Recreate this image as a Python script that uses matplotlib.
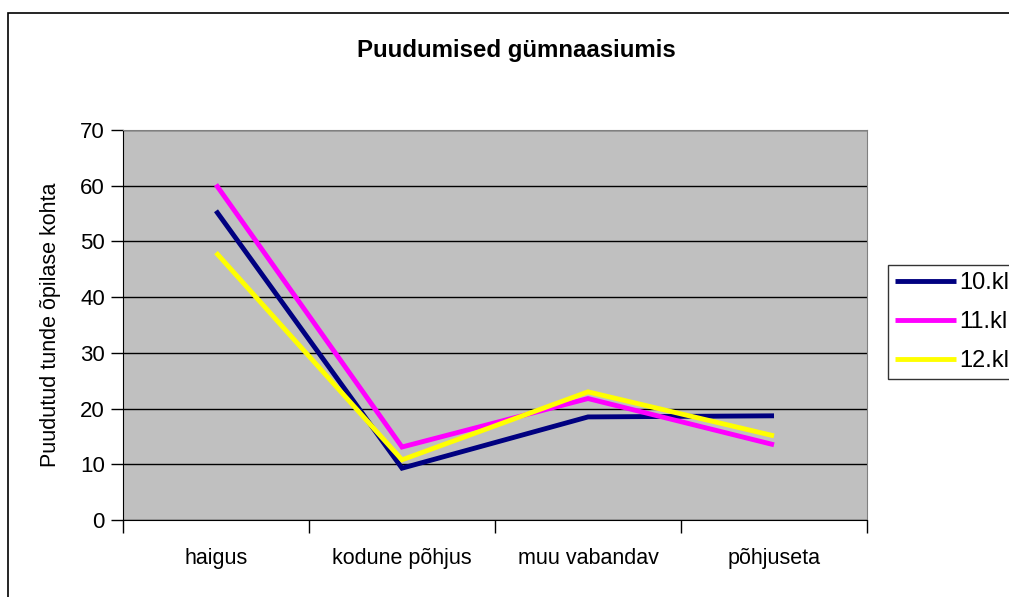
import matplotlib.pyplot as plt
from matplotlib.patches import Rectangle

# andmed
kategooriad = ["haigus", "kodune põhjus", "muu vabandav", "põhjuseta"]
kl10 = [55.5, 9.3, 18.5, 18.7]
kl11 = [60.2, 13.1, 21.8, 13.5]
kl12 = [48.0, 10.8, 23.0, 15.1]
seeriad = ["10.kl", "11.kl", "12.kl"]
varvid = ["#000080", "#FF00FF", "#FFFF00"]

plt.rcParams['font.family'] = ['Liberation Sans', 'DejaVu Sans']

fig = plt.figure(figsize=(10.09, 5.97), dpi=100)
ax = fig.add_axes([123/1009, 77/597, 744/1009, 390/597])
ax.set_facecolor("#C0C0C0")

x = range(len(kategooriad))
for y, lab, c in zip([kl10, kl11, kl12], seeriad, varvid):
    ax.plot(x, y, color=c, lw=3.5, label=lab, solid_capstyle="butt", solid_joinstyle="miter")

ax.set_xlim(-0.5, len(kategooriad) - 0.5)
ax.set_ylim(0, 70)
ax.set_yticks(range(0, 71, 10))
ax.yaxis.grid(True, color="black", lw=1)
ax.set_axisbelow(True)

# kategooriate vahelised kriipsud
ax.set_xticks([i - 0.5 for i in range(len(kategooriad) + 1)])
ax.set_xticklabels([])
ax.set_xticks(list(x), minor=True)
ax.set_xticklabels(kategooriad, minor=True, fontsize=15.5)
ax.tick_params(axis="x", which="minor", length=0, pad=20)
ax.tick_params(axis="x", which="major", length=9, width=1, direction="out")
ax.tick_params(axis="y", length=9, width=1, labelsize=16, pad=4)

for s in ["top", "right"]:
    ax.spines[s].set_color("#808080")
for s in ["left", "bottom"]:
    ax.spines[s].set_color("black")

ax.set_ylabel("Puudutud tunde õpilase kohta", fontsize=15.5, labelpad=14)

fig.text(516/1009, 1 - 51/597, "Puudumised gümnaasiumis", ha="center", va="center",
         fontsize=17.3, fontweight="bold")

leg = fig.legend(loc="upper left", bbox_to_anchor=(888/1009, 1 - 265/597),
                 fontsize=17, frameon=True, fancybox=False, edgecolor="black",
                 handlelength=2.6, handletextpad=0.1, labelspacing=0.72,
                 borderaxespad=0, borderpad=0.3)
leg.get_frame().set_linewidth(1)

# välimine raam
fig.patches.append(Rectangle((8/1009, -0.2), 1.2, 1.2 - 13/597, transform=fig.transFigure,
                             fill=False, edgecolor="black", lw=1.2))

fig.savefig("out.png", dpi=100)
